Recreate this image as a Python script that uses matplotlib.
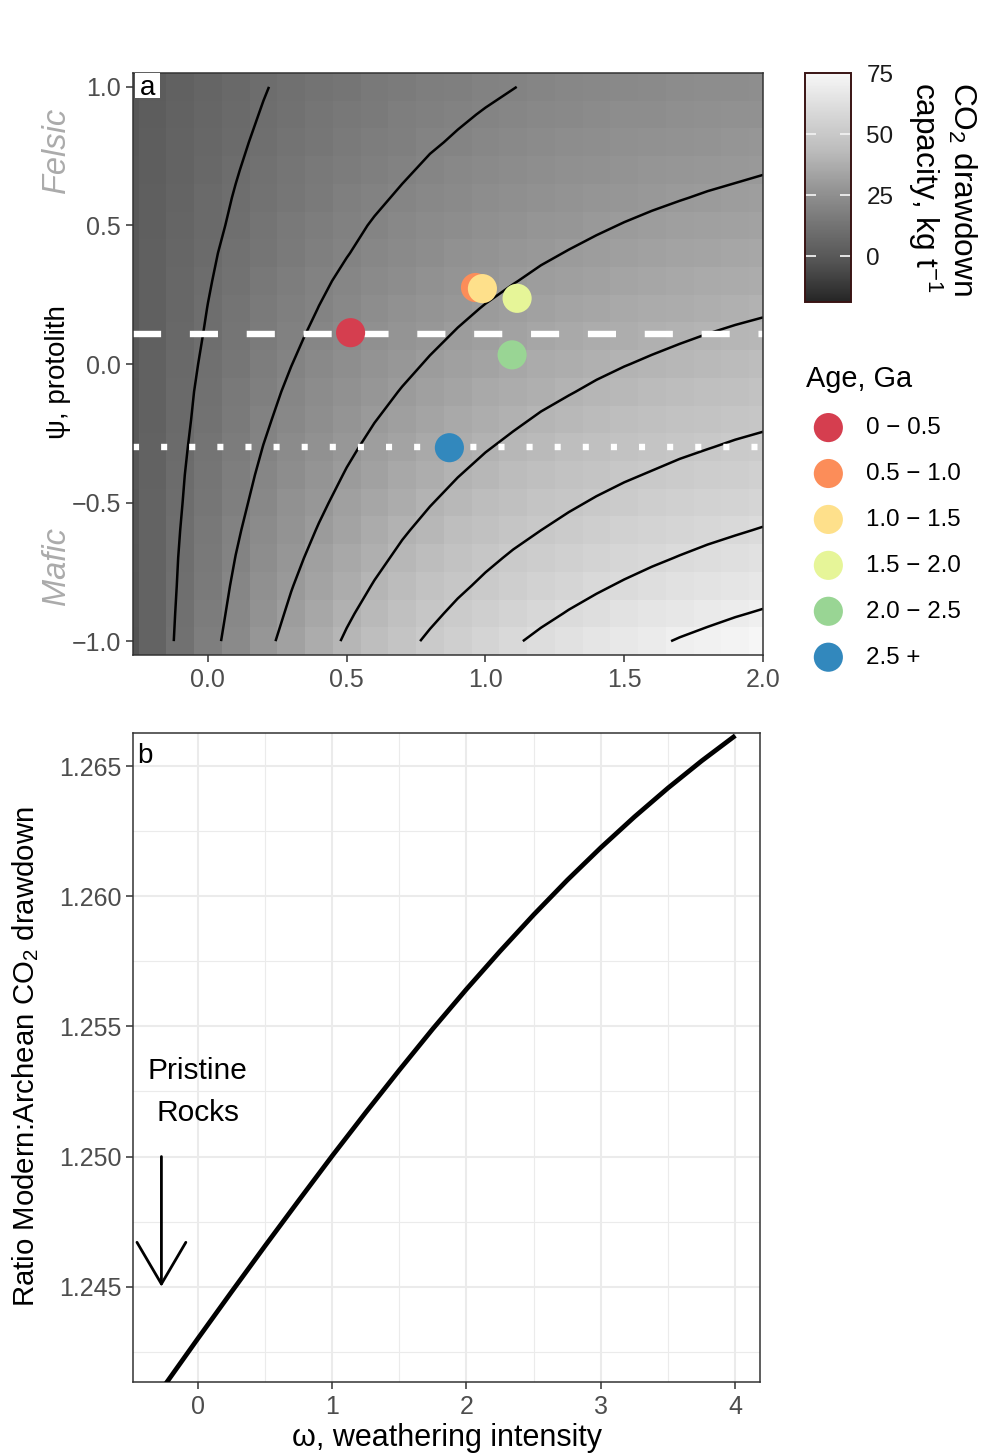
import numpy as np
import matplotlib
matplotlib.use('Agg')
import matplotlib.pyplot as plt
from matplotlib.colors import LinearSegmentedColormap, Normalize
from matplotlib.patches import Rectangle

plt.rcParams['font.family'] = ['Liberation Sans', 'DejaVu Sans']
plt.rcParams['mathtext.fontset'] = 'custom'
plt.rcParams['mathtext.rm'] = 'Liberation Sans'
plt.rcParams['mathtext.it'] = 'Liberation Sans:italic'
plt.rcParams['mathtext.bf'] = 'Liberation Sans:bold'

# ---------------- data ----------------
# panel a: tile centres (omega = weathering intensity, psi = protolith)
omega_centers = [-0.3, -0.2, -0.1, 0.0, 0.1, 0.2, 0.3, 0.4, 0.5, 0.6, 0.7, 0.8,
                 0.9, 1.0, 1.1, 1.2, 1.3, 1.4, 1.5, 1.6, 1.7, 1.8, 1.9, 2.0]
psi_centers = [-1.0, -0.9, -0.8, -0.7, -0.6, -0.5, -0.4, -0.3, -0.2, -0.1, 0.0,
               0.1, 0.2, 0.3, 0.4, 0.5, 0.6, 0.7, 0.8, 0.9, 1.0]
# CO2 drawdown capacity (kg/t), one row per psi value (bottom to top)
drawdown = [
    [-2.0, 5.0, 11.5, 17.4, 22.9, 28.0, 32.6, 36.9, 40.9, 44.6, 48.0, 51.1, 54.0, 56.7, 59.2, 61.5, 63.6, 65.5, 67.3, 68.9, 70.5, 71.9, 73.2, 74.4],
    [-1.6, 5.0, 11.1, 16.7, 21.9, 26.7, 31.1, 35.2, 39.0, 42.5, 45.7, 48.6, 51.4, 53.9, 56.2, 58.4, 60.4, 62.2, 63.9, 65.5, 66.9, 68.2, 69.5, 70.6],
    [-1.3, 5.0, 10.7, 16.1, 21.0, 25.5, 29.7, 33.6, 37.1, 40.4, 43.4, 46.3, 48.8, 51.2, 53.4, 55.5, 57.4, 59.1, 60.7, 62.2, 63.5, 64.8, 66.0, 67.0],
    [-1.0, 4.9, 10.4, 15.4, 20.1, 24.3, 28.3, 32.0, 35.3, 38.4, 41.3, 44.0, 46.4, 48.7, 50.8, 52.7, 54.5, 56.1, 57.6, 59.0, 60.3, 61.5, 62.6, 63.6],
    [-0.7, 4.9, 10.0, 14.8, 19.2, 23.2, 27.0, 30.4, 33.6, 36.6, 39.3, 41.8, 44.1, 46.2, 48.2, 50.0, 51.7, 53.3, 54.7, 56.0, 57.2, 58.4, 59.4, 60.4],
    [-0.5, 4.8, 9.6, 14.2, 18.3, 22.1, 25.7, 28.9, 32.0, 34.7, 37.3, 39.7, 41.9, 43.9, 45.8, 47.5, 49.1, 50.6, 51.9, 53.2, 54.3, 55.4, 56.4, 57.3],
    [-0.3, 4.7, 9.3, 13.5, 17.5, 21.1, 24.4, 27.5, 30.4, 33.0, 35.5, 37.7, 39.8, 41.7, 43.4, 45.1, 46.6, 48.0, 49.3, 50.4, 51.5, 52.5, 53.5, 54.3],
    [-0.2, 4.5, 8.9, 12.9, 16.7, 20.1, 23.2, 26.2, 28.9, 31.4, 33.7, 35.8, 37.7, 39.6, 41.2, 42.8, 44.2, 45.5, 46.7, 47.8, 48.9, 49.8, 50.7, 51.5],
    [-0.1, 4.4, 8.5, 12.3, 15.9, 19.1, 22.1, 24.9, 27.4, 29.8, 31.9, 34.0, 35.8, 37.5, 39.1, 40.6, 41.9, 43.1, 44.3, 45.4, 46.3, 47.2, 48.1, 48.8],
    [0.0, 4.3, 8.2, 11.8, 15.1, 18.2, 21.0, 23.6, 26.0, 28.3, 30.3, 32.2, 34.0, 35.6, 37.1, 38.5, 39.7, 40.9, 42.0, 43.0, 43.9, 44.8, 45.6, 46.3],
    [0.1, 4.1, 7.8, 11.2, 14.3, 17.2, 19.9, 22.4, 24.7, 26.8, 28.7, 30.5, 32.2, 33.7, 35.1, 36.4, 37.6, 38.8, 39.8, 40.7, 41.6, 42.4, 43.2, 43.8],
    [0.2, 3.9, 7.4, 10.6, 13.6, 16.4, 18.9, 21.2, 23.4, 25.4, 27.2, 28.9, 30.5, 31.9, 33.3, 34.5, 35.7, 36.7, 37.7, 38.6, 39.4, 40.2, 40.9, 41.5],
    [0.2, 3.8, 7.1, 10.1, 12.9, 15.5, 17.9, 20.1, 22.2, 24.1, 25.8, 27.4, 28.9, 30.3, 31.5, 32.7, 33.8, 34.8, 35.7, 36.5, 37.3, 38.0, 38.7, 39.3],
    [0.2, 3.6, 6.7, 9.6, 12.2, 14.7, 17.0, 19.1, 21.0, 22.8, 24.4, 25.9, 27.3, 28.6, 29.8, 30.9, 31.9, 32.9, 33.8, 34.6, 35.3, 36.0, 36.6, 37.2],
    [0.2, 3.4, 6.3, 9.1, 11.6, 13.9, 16.0, 18.0, 19.8, 21.5, 23.1, 24.5, 25.9, 27.1, 28.2, 29.3, 30.2, 31.1, 31.9, 32.7, 33.4, 34.0, 34.6, 35.2],
    [0.2, 3.2, 6.0, 8.5, 10.9, 13.1, 15.2, 17.0, 18.8, 20.4, 21.8, 23.2, 24.4, 25.6, 26.7, 27.7, 28.6, 29.4, 30.2, 30.9, 31.6, 32.2, 32.7, 33.3],
    [0.1, 3.0, 5.6, 8.1, 10.3, 12.4, 14.3, 16.1, 17.7, 19.2, 20.6, 21.9, 23.1, 24.2, 25.2, 26.1, 27.0, 27.8, 28.5, 29.2, 29.8, 30.4, 30.9, 31.4],
    [0.1, 2.8, 5.3, 7.6, 9.7, 11.7, 13.5, 15.2, 16.7, 18.1, 19.4, 20.7, 21.8, 22.8, 23.8, 24.7, 25.5, 26.2, 26.9, 27.6, 28.2, 28.7, 29.2, 29.7],
    [0.0, 2.6, 4.9, 7.1, 9.1, 11.0, 12.7, 14.3, 15.7, 17.1, 18.3, 19.5, 20.5, 21.5, 22.4, 23.3, 24.0, 24.8, 25.4, 26.0, 26.6, 27.1, 27.6, 28.0],
    [-0.1, 2.3, 4.6, 6.6, 8.6, 10.3, 11.9, 13.4, 14.8, 16.1, 17.3, 18.4, 19.4, 20.3, 21.1, 21.9, 22.7, 23.3, 24.0, 24.5, 25.1, 25.6, 26.0, 26.4],
    [-0.2, 2.1, 4.2, 6.2, 8.0, 9.7, 11.2, 12.6, 13.9, 15.1, 16.2, 17.3, 18.2, 19.1, 19.9, 20.7, 21.4, 22.0, 22.6, 23.1, 23.6, 24.1, 24.5, 24.9],
]

contour_levels = [10, 20, 30, 40, 50, 60, 70]
fill_limits = [-18.7, 75.2]
fill_ticks = [0, 25, 50, 75]

psi_modern = 0.11
psi_archean = -0.30

age_labels = ['0 \u2212 0.5', '0.5 \u2212 1.0', '1.0 \u2212 1.5', '1.5 \u2212 2.0', '2.0 \u2212 2.5', '2.5 +']
age_colors = ['#D53E4F', '#FC8D59', '#FEE08B', '#E6F598', '#99D594', '#3288BD']
omega_pts = [0.514, 0.964, 0.989, 1.114, 1.096, 0.870]
psi_pts = [0.113, 0.276, 0.272, 0.237, 0.033, -0.302]

# panel b
omega_b = [-0.27, 0.0, 0.25, 0.5, 0.75, 1.0, 1.25, 1.5, 1.75, 2.0, 2.25, 2.5,
           2.75, 3.0, 3.25, 3.5, 3.75, 4.0]
ratio_b = [1.24104, 1.24300, 1.24479, 1.24656, 1.24830, 1.25002, 1.25169, 1.25332,
           1.25491, 1.25643, 1.25789, 1.25929, 1.26062, 1.26187, 1.26305, 1.26416,
           1.26520, 1.26617]
omega_pristine = -0.27

# ---------------- figure ----------------
W, H = 983, 1454
fig = plt.figure(figsize=(W / 100, H / 100), dpi=100)

def fx(px):
    return px / W

def fy(py):
    return 1 - py / H

tick_col = '#4d4d4d'
tick_fs = 18

# panel a
axa = fig.add_axes([fx(133), fy(655), fx(763) - fx(133), fy(73) - fy(655)])
greys = ['#252525', '#525252', '#737373', '#969696', '#BDBDBD', '#D9D9D9', '#F7F7F7']
cmap = LinearSegmentedColormap.from_list('greys_d', greys, N=256)
norm = Normalize(vmin=fill_limits[0], vmax=fill_limits[1])
Z = np.array(drawdown)
mesh = axa.pcolormesh(omega_centers, psi_centers, Z, cmap=cmap, norm=norm,
                      shading='nearest', linewidth=0, rasterized=True)
axa.contour(omega_centers, psi_centers, Z, levels=contour_levels,
            colors='black', linewidths=1.8)
lw_ref = 4.6
axa.axhline(psi_modern, color='white', lw=lw_ref, dashes=(4.4, 4.5),
            dash_capstyle='butt', zorder=3)
axa.axhline(psi_archean, color='white', lw=lw_ref, dashes=(0.95, 3.45),
            dash_capstyle='butt', zorder=3)
for om, ps, col, lab in zip(omega_pts, psi_pts, age_colors, age_labels):
    axa.scatter([om], [ps], s=440, color=col, edgecolors='none', zorder=5, label=lab)
axa.set_xlim(-0.27, 2.0)
axa.set_ylim(-1.05, 1.05)
axa.set_xticks([0.0, 0.5, 1.0, 1.5, 2.0])
axa.set_xticklabels(['0.0', '0.5', '1.0', '1.5', '2.0'])
axa.set_yticks([-1.0, -0.5, 0.0, 0.5, 1.0])
axa.set_yticklabels(['\u22121.0', '\u22120.5', '0.0', '0.5', '1.0'])
axa.tick_params(length=5, width=1.1, color='#333333', labelcolor=tick_col,
                labelsize=tick_fs, pad=3.5)
axa.tick_params(axis='x', pad=4.5)
for sp in axa.spines.values():
    sp.set_color('#333333')
    sp.set_linewidth(1.1)
    sp.set_zorder(6)
axa.add_patch(Rectangle((-0.2626, 0.9604), 0.09, 0.0896, facecolor='white',
                        edgecolor='none', zorder=7))
axa.text(-0.2176, 0.971, 'a', ha='center', va='baseline', fontsize=20, zorder=8)

fig.text(fx(58), fy(372), '\u03c8, protolith', rotation=90, ha='center', va='center',
         fontsize=20)
fig.text(fx(56.5), fy(150), 'Felsic', rotation=90, ha='center', va='center',
         fontsize=23.5, style='italic', color='#ababab')
fig.text(fx(56.5), fy(566), 'Mafic', rotation=90, ha='center', va='center',
         fontsize=23.5, style='italic', color='#ababab')

# colorbar
cax = fig.add_axes([fx(805), fy(302), fx(851) - fx(805), fy(73) - fy(302)])
cb = fig.colorbar(mesh, cax=cax, ticks=fill_ticks)
cb.outline.set_edgecolor('#3a1414')
cb.outline.set_linewidth(1.4)
cax.minorticks_off()
cax.tick_params(axis='y', left=True, right=True, labelleft=False, labelright=True,
                direction='in', length=8, width=1.3, color='#f0f0f0',
                labelcolor='#1a1a1a', labelsize=17.5, pad=11)
fig.text(fx(962), fy(82), 'CO$_2$ drawdown', rotation=270, ha='center', va='top',
         fontsize=22.8)
fig.text(fx(925), fy(82), 'capacity, kg t$^{-1}$', rotation=270, ha='center', va='top',
         fontsize=22.8)

# legend
handles, labels = axa.get_legend_handles_labels()
fig.legend(handles, labels, loc='upper left', bbox_to_anchor=(fx(806), fy(365)),
           frameon=False, fontsize=17.4, title='Age, Ga', title_fontsize=20.8,
           alignment='left', labelspacing=0.99, handlelength=1.85, handletextpad=0.62,
           borderpad=0, borderaxespad=0)

# panel b
axb = fig.add_axes([fx(133), fy(1382), fx(760) - fx(133), fy(733) - fy(1382)])
axb.plot(omega_b, ratio_b, color='black', lw=3.4, solid_capstyle='butt',
         solid_joinstyle='round', zorder=3)
axb.set_xlim(-0.4814, 4.1838)
axb.set_ylim(1.24134, 1.26627)
axb.set_xticks([0, 1, 2, 3, 4])
axb.set_xticklabels(['0', '1', '2', '3', '4'])
axb.set_xticks([0.5, 1.5, 2.5, 3.5], minor=True)
axb.set_yticks([1.245, 1.250, 1.255, 1.260, 1.265])
axb.set_yticklabels(['1.245', '1.250', '1.255', '1.260', '1.265'])
axb.set_yticks([1.2425, 1.2475, 1.2525, 1.2575, 1.2625], minor=True)
axb.grid(which='major', color='#ebebeb', lw=1.5)
axb.grid(which='minor', color='#ebebeb', lw=0.8)
axb.set_axisbelow(True)
axb.tick_params(which='major', length=5, width=1.1, color='#333333', labelcolor=tick_col,
                labelsize=tick_fs, pad=3.5)
axb.tick_params(axis='x', which='major', pad=4.5)
axb.tick_params(which='minor', length=0)
for sp in axb.spines.values():
    sp.set_color('#333333')
    sp.set_linewidth(1.1)
axb.text(-0.452, 1.26513, 'b', ha='left', va='baseline', fontsize=20)
axb.text(0.0, 1.25247, 'Pristine\nRocks', ha='center', va='center', fontsize=21.5,
         linespacing=1.63)
axb.annotate('', xy=(omega_pristine, 1.245), xytext=(omega_pristine, 1.250),
             arrowprops=dict(arrowstyle='->,head_length=30,head_width=17.6',
                             mutation_scale=1, lw=2.0, color='black',
                             shrinkA=0, shrinkB=0))
fig.text(fx(446.5), fy(1438), '\u03c9, weathering intensity', ha='center', va='center',
         fontsize=22)
fig.text(fx(25.5), fy(1057), 'Ratio Modern:Archean CO$_2$ drawdown', rotation=90,
         ha='center', va='center', fontsize=21.2)

fig.savefig('out.png', dpi=100)
